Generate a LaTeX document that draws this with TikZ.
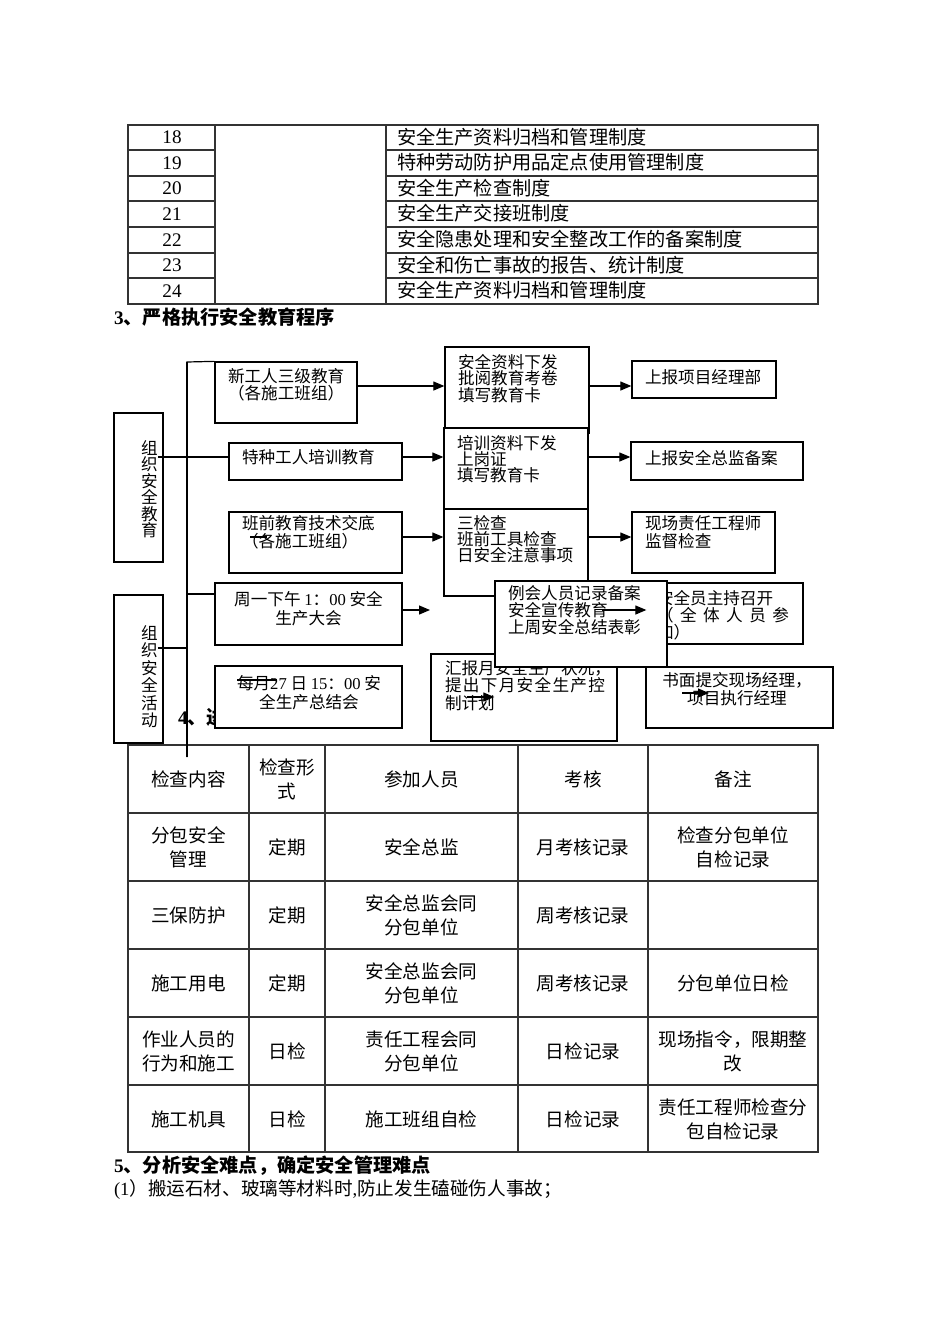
\documentclass[tikz,border=0pt]{standalone}
\usepackage{fontspec}
\setmainfont{Noto Sans CJK SC}
\newfontfamily\lat{Liberation Serif}
\usetikzlibrary{arrows.meta,fit}
\tikzset{
  box/.style={draw, fill=white, line width=0.65pt, inner sep=0pt},
  ln/.style={line width=0.6pt},
  arr/.style={line width=0.6pt, -{Triangle[length=5.5pt,width=4.5pt]}},
  tl/.style={line width=0.55pt, draw=black!80},
  txt/.style={inner sep=0pt, outer sep=0pt},
  fs/.style={txt, font=\fontsize{8.3pt}{8.5pt}\selectfont},
  ts/.style={txt, font=\fontsize{9.6pt}{12pt}\selectfont},
  tb/.style={txt, align=center, font=\fontsize{9.3pt}{12pt}\selectfont},
  hd/.style={txt, anchor=base west, font=\fontsize{9.6pt}{12pt}\selectfont\bfseries},
}
\begin{document}
\begin{tikzpicture}[x=0.5pt,y=-0.5pt]
\useasboundingbox (0,0) rectangle (950,1344);
\fill[white] (0,0) rectangle (950,1344);

% ---------- top table ----------
\draw[tl] (128,125) rectangle (818,304);
\foreach \x in {215,386} \draw[tl] (\x,125) -- (\x,304);
\foreach \y in {150,176,201,227,253,278} {
  \draw[tl] (128,\y) -- (215,\y);
  \draw[tl] (386,\y) -- (818,\y);
}
\foreach \n/\y/\t in {18/137.5/安全生产资料归档和管理制度,
                      19/163/特种劳动防护用品定点使用管理制度,
                      20/188.5/安全生产检查制度,
                      21/214/安全生产交接班制度,
                      22/240/安全隐患处理和安全整改工作的备案制度,
                      23/265.5/安全和伤亡事故的报告、统计制度,
                      24/291/安全生产资料归档和管理制度} {
  \node[ts] (num\n) at (172,\y) {\lat\n};
  \node[ts, anchor=base west] (item\n) at (397,\y+6.5) {\t};
}
\node[hd] (h3) at (114,324.5) {{\lat\bfseries 3}、严格执行安全教育程序};

% ---------- flowchart: lines ----------
\coordinate (vtop) at (187,362);
\coordinate (vend) at (187,757);
\node[box, fit={(215,362)(357,423)}] (b1) {};
\draw[ln] (b1.north west) -- (vtop) -- (vend);
\node[hd] (h4) at (178,724.5) {{\lat\bfseries 4}、进};

% left boxes
\node[box, fit={(114,413)(163,562)}] (bE) {};
\node[box, fit={(114,595)(163,743)}] (bA) {};
\node[fs, align=center, anchor=base, font=\fontsize{8.3pt}{8.2pt}\selectfont] (vE) at (149.5,536.5) {组\\织\\安\\全\\教\\育};
\node[fs, align=center, anchor=base, font=\fontsize{8.3pt}{8.7pt}\selectfont] (vA) at (149.5,726.5) {组\\织\\安\\全\\活\\动};

\node[box, fit={(215,362)(357,423)}] (b1) {};
\node[box, fit={(229,443)(402,480)}] (b2) {};
\node[box, fit={(229,512)(402,573)}] (b3) {};
\node[box, fit={(215,583)(402,645)}] (b4) {};
\node[box, fit={(215,666)(402,728)}] (bM) {};
\draw[ln] (vE.east |- 0,457) -- (b2.west |- 0,457);
\draw[ln] (vA.east |- 0,648) -- (vend |- 0,648);
\draw[ln] (vtop |- 0,594) -- (b4.west |- 0,594);

\node[fs, align=left, anchor=base west, font=\fontsize{8.3pt}{7.6pt}\selectfont] (t1) at (228,399.7) {新工人三级教育\\（各施工班组）};
\node[fs, anchor=base west] (t2) at (242,463.5) {特种工人培训教育};
\node[fs, align=left, anchor=base west, font=\fontsize{8.3pt}{7pt}\selectfont] (t3) at (242,547.5) {班前教育技术交底\\（各施工班组）};
\node[fs, align=center, anchor=base, font=\fontsize{8.3pt}{9.3pt}\selectfont] (t4) at (308.5,624) {周一下午 {\lat 1}：{\lat 00} 安全\\生产大会};
\node[fs, align=center, anchor=base, font=\fontsize{8.3pt}{9.3pt}\selectfont] (t5) at (309,708) {每月{\lat 27} 日 {\lat 15}：{\lat 00} 安\\全生产总结会};
\draw[ln] (237,680) -- (277,680);
\draw[ln] (250,537) -- (267,537);

% middle boxes
\node[box, fit={(445,347)(589,433)}] (b5) {};
\node[box, fit={(444,428)(588,509)}] (b6) {};
\node[box, fit={(444,509)(588,596)}] (b7) {};
\node[box, fit={(431,654)(617,741)}] (b14) {};
\node[fs, align=left, anchor=base west, font=\fontsize{8.3pt}{8.2pt}\selectfont] (t6) at (458,401.3) {安全资料下发\\批阅教育考卷\\填写教育卡};
\node[fs, align=left, anchor=base west, font=\fontsize{8.3pt}{8pt}\selectfont] (t7) at (457,481.5) {培训资料下发\\上岗证\\填写教育卡};
\node[fs, align=left, anchor=base west, font=\fontsize{8.3pt}{8pt}\selectfont] (t8) at (457,561.5) {三检查\\班前工具检查\\日安全注意事项};
\node[fs, align=left, anchor=base west, font=\fontsize{8.3pt}{8.7pt}\selectfont] (t14) at (445,709.3)
  {\makebox[80pt][s]{汇\hfill 报\hfill 月\hfill 安\hfill 全\hfill 生\hfill 产\hfill 状\hfill 况\hfill ，}\\
   \makebox[80pt][s]{提\hfill 出\hfill 下\hfill 月\hfill 安\hfill 全\hfill 生\hfill 产\hfill 控}\\
   制计划};

% right boxes
\node[box, fit={(632,361)(776,398)}] (b9) {};
\node[box, fit={(631,442)(803,480)}] (b10) {};
\node[box, fit={(632,512)(775,573)}] (b11) {};
\node[box, fit={(647,583)(803,644)}] (b13) {};
\node[box, fit={(646,667)(833,728)}] (b15) {};
\node[fs, anchor=base west] (t9) at (645,383.5) {上报项目经理部};
\node[fs, anchor=base west] (t10) at (645,464.5) {上报安全总监备案};
\node[fs, align=left, anchor=base west, font=\fontsize{8.3pt}{7.2pt}\selectfont] (t11) at (645,547) {现场责任工程师\\监督检查};
\node[fs, align=left, anchor=base west, font=\fontsize{8.3pt}{8.5pt}\selectfont] (t13) at (657,638.5)
  {安全员主持召开\\\makebox[66pt][s]{（\hfill 全\hfill 体\hfill 人\hfill 员\hfill 参}\\加）};
\node[fs, align=center, anchor=base, font=\fontsize{8.3pt}{7.6pt}\selectfont] (t15) at (737,704.7) {书面提交现场经理，\\项目执行经理};

% arrows between boxes
\draw[arr] (b1.east |- 0,386) -- (b5.west |- 0,386);
\draw[arr] (b2.east |- 0,457) -- (b6.west |- 0,457);
\draw[arr] (b3.east |- 0,537) -- (b7.west |- 0,537);
\draw[arr] (b5.east |- 0,386) -- (b9.west |- 0,386);
\draw[arr] (b6.east |- 0,457) -- (b10.west |- 0,457);
\draw[arr] (b7.east |- 0,537) -- (b11.west |- 0,537);
\coordinate (a4end) at (430,610);
\draw[arr] (b4.east |- a4end) -- (a4end);

% meeting box on top
\node[box, fit={(495,581)(667,667)}] (b12) {};
\node[fs, align=left, anchor=base west, font=\fontsize{8.3pt}{8.5pt}\selectfont] (t12) at (508,633.5) {例会人员记录备案\\安全宣传教育\\上周安全总结表彰};

% short arrows drawn over boxes
\coordinate (s1) at (602,610);
\draw[arr] (s1) -- (b13.west |- s1);
\coordinate (s2) at (467,697);
\draw[arr] (s2) -- (b12.west |- s2);
\coordinate (s3) at (682,693);
\coordinate (s3e) at (709,693);
\draw[arr] (s3) -- (s3e);

% ---------- lower table ----------
\draw[tl] (128,745) rectangle (818,1152);
\foreach \x in {249,325,518,648} \draw[tl] (\x,745) -- (\x,1152);
\foreach \y in {813,881,949,1017,1085} \draw[tl] (128,\y) -- (818,\y);
\draw[ln] (vtop) -- (vend);

\node[tb] (c11) at (188.5,779) {检查内容};
\node[tb] (c12) at (287,779) {检查形\\式};
\node[tb] (c13) at (421.5,779) {参加人员};
\node[tb] (c14) at (583,779) {考核};
\node[tb] (c15) at (733,779) {备注};

\node[tb] (c21) at (188.5,847) {分包安全\\管理};
\node[tb] (c22) at (287,847) {定期};
\node[tb] (c23) at (421.5,847) {安全总监};
\node[tb] (c24) at (583,847) {月考核记录};
\node[tb] (c25) at (733,847) {检查分包单位\\自检记录};

\node[tb] (c31) at (188.5,915) {三保防护};
\node[tb] (c32) at (287,915) {定期};
\node[tb] (c33) at (421.5,915) {安全总监会同\\分包单位};
\node[tb] (c34) at (583,915) {周考核记录};

\node[tb] (c41) at (188.5,983) {施工用电};
\node[tb] (c42) at (287,983) {定期};
\node[tb] (c43) at (421.5,983) {安全总监会同\\分包单位};
\node[tb] (c44) at (583,983) {周考核记录};
\node[tb] (c45) at (733,983) {分包单位日检};

\node[tb] (c51) at (188.5,1051) {作业人员的\\行为和施工};
\node[tb] (c52) at (287,1051) {日检};
\node[tb] (c53) at (421.5,1051) {责任工程会同\\分包单位};
\node[tb] (c54) at (583,1051) {日检记录};
\node[tb] (c55) at (733,1051) {现场指令，限期整\\改};

\node[tb] (c61) at (188.5,1119) {施工机具};
\node[tb] (c62) at (287,1119) {日检};
\node[tb] (c63) at (421.5,1119) {施工班组自检};
\node[tb] (c64) at (583,1119) {日检记录};
\node[tb] (c65) at (733,1119) {责任工程师检查分\\包自检记录};

% ---------- bottom text ----------
\node[hd] (h5) at (114,1172.5) {{\lat\bfseries 5}、分析安全难点，确定安全管理难点};
\node[ts, anchor=base west, font=\fontsize{9.3pt}{12pt}\selectfont] (p1) at (114,1195.5) {{\lat (1}）搬运石材、玻璃等材料时{\lat ,}防止发生磕碰伤人事故；};
\end{tikzpicture}
\end{document}
